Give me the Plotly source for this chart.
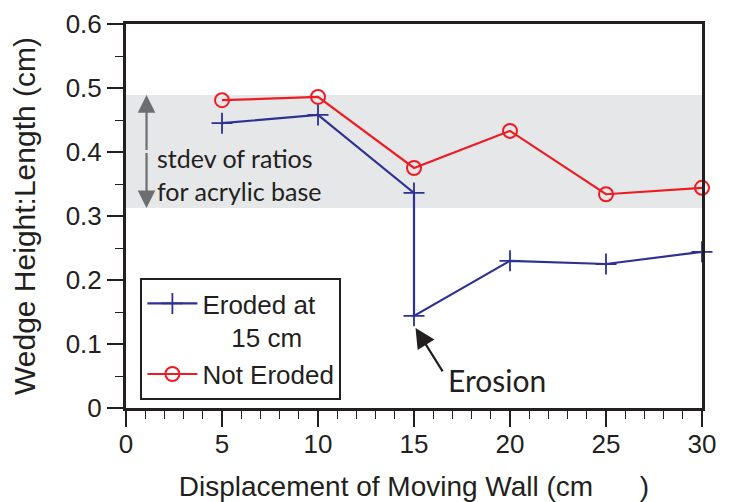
import plotly.graph_objects as go

# ---- data ----
eroded_x = [5, 10, 15, 15, 20, 25, 30]
eroded_y = [0.445, 0.458, 0.336, 0.144, 0.230, 0.225, 0.244]
noteroded_x = [5, 10, 15, 20, 25, 30]
noteroded_y = [0.481, 0.486, 0.375, 0.433, 0.334, 0.344]
band_low = 0.3125
band_high = 0.489
x_ticks = [0, 5, 10, 15, 20, 25, 30]
y_ticks = [0, 0.1, 0.2, 0.3, 0.4, 0.5, 0.6]
y_ticktext = ["0", "0.1", "0.2", "0.3", "0.4", "0.5", "0.6"]

INK = "#231f20"
BLUE = "#2e3192"
RED = "#ed1c24"
FONT = "Liberation Sans, Arial, Helvetica, sans-serif"
NARROW = "Lato, Open Sans, sans-serif"

fig = go.Figure()
fig.add_trace(go.Scatter(
    x=eroded_x, y=eroded_y, mode="lines+markers",
    name="Eroded at<br>\u00a0\u00a0\u00a0\u00a015 cm",
    line=dict(color=BLUE, width=2.2),
    marker=dict(symbol="cross-thin", size=15, line=dict(color=BLUE, width=1.8)),
    cliponaxis=False,
))
fig.add_trace(go.Scatter(
    x=noteroded_x, y=noteroded_y, mode="lines+markers",
    name="Not Eroded",
    line=dict(color=RED, width=2.2),
    marker=dict(symbol="circle-open", size=14, line=dict(color=RED, width=2)),
    cliponaxis=False,
))

# grey band: stdev of ratios
fig.add_shape(type="rect", xref="x", yref="y", x0=x_ticks[0], x1=x_ticks[-1],
              y0=band_low, y1=band_high, fillcolor="#e6e7e8",
              line=dict(width=0), layer="below")

mid = (band_low + band_high) / 2
for tip in (band_high, band_low):
    fig.add_annotation(x=1.07, y=tip, ax=1.07, ay=mid, xref="x", yref="y",
                       axref="x", ayref="y", text="", showarrow=True,
                       arrowhead=2, arrowsize=1.6, arrowwidth=2.2,
                       arrowcolor="#6d6e71", standoff=0)
fig.add_annotation(x=1.5, y=mid - 0.036, xref="x", yref="y", xanchor="left",
                   yanchor="middle", showarrow=False, align="left",
                   text="stdev of ratios<br>for acrylic base",
                   font=dict(family=NARROW, size=25, color=INK))

# erosion arrow
fig.add_annotation(x=15.08, y=0.125, ax=16.54, ay=0.055, xref="x", yref="y",
                   axref="x", ayref="y", text="", showarrow=True,
                   arrowhead=2, arrowsize=1.8, arrowwidth=2.2,
                   arrowcolor=INK, standoff=0)
fig.add_annotation(x=16.65, y=0.043, xref="x", yref="y", xanchor="left",
                   yanchor="middle", showarrow=False, text="Erosion",
                   font=dict(family=NARROW, size=30, color=INK))

fig.update_xaxes(
    range=[0, 30], tickvals=x_ticks, ticks="outside", ticklen=16, tickwidth=1.5,
    tickcolor=INK, showline=True, linewidth=3, linecolor=INK, mirror=True,
    showgrid=False, zeroline=False, automargin=False, ticklabelstandoff=-5,
    minor=dict(dtick=1, ticks="outside", ticklen=8, tickwidth=1.2, tickcolor=INK, showgrid=False),
    tickfont=dict(family=FONT, size=26, color=INK),
    title=dict(text="Displacement of Moving Wall (cm\u00a0\u00a0\u00a0\u00a0\u00a0\u00a0)",
               font=dict(family=FONT, size=28, color=INK), standoff=19),
)
fig.update_yaxes(
    range=[0, 0.6], tickvals=y_ticks, ticktext=y_ticktext, ticks="outside",
    ticklen=16, tickwidth=1.5, tickcolor=INK, showline=True, linewidth=3,
    linecolor=INK, mirror=True, showgrid=False, zeroline=False, automargin=False,
    minor=dict(dtick=0.05, ticks="outside", ticklen=8, tickwidth=1.2, tickcolor=INK, showgrid=False),
    tickfont=dict(family=FONT, size=26, color=INK),
    title=dict(text="Wedge Height:Length (cm)\u00a0\u00a0\u00a0",
               font=dict(family=FONT, size=30, color=INK), standoff=26),
)

fig.update_layout(
    width=724, height=494,
    margin=dict(l=117.5, r=30.3, t=16, b=94),
    paper_bgcolor="white", plot_bgcolor="white",
    font=dict(family=FONT, color=INK),
    showlegend=True,
    legend=dict(x=0.025, y=0.3385, xanchor="left", yanchor="top",
                bordercolor=INK, borderwidth=2, bgcolor="white",
                font=dict(family=FONT, size=26, color=INK),
                valign="top", tracegroupgap=0, itemwidth=50),
)

fig.write_html("out.html")
